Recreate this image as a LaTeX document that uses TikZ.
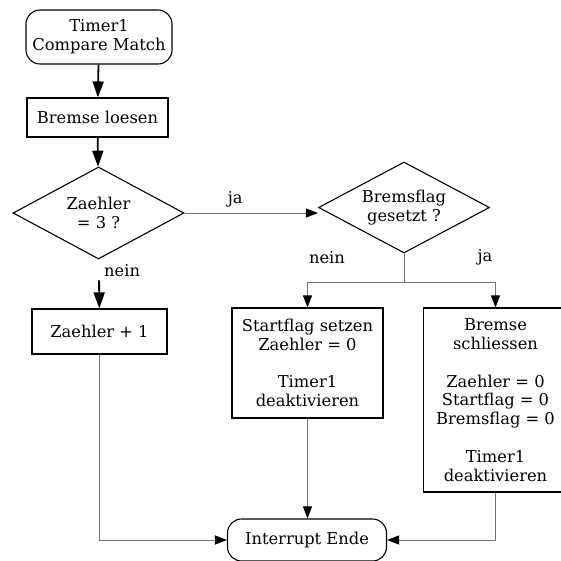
\documentclass[tikz,border=0pt]{standalone}
\usepackage{fontspec}
\setmainfont{DejaVu Serif}
\usetikzlibrary{shapes.geometric,arrows.meta}
\tikzset{
	startstop/.style={draw, line width=1.1pt, rounded corners=14pt, align=center, inner sep=0pt},
	process/.style={draw, line width=1.1pt, align=center, inner sep=0pt},
	decision/.style={draw, diamond, aspect=2, line width=1.1pt, align=center, inner sep=0pt},
	flowthick/.style={line width=1.8pt, -{Triangle[length=16pt,width=11pt]}},
	flowthin/.style={line width=1pt, draw=black!55, -{Triangle[length=12pt,width=9pt,black]}}
}
\begin{document}
\begin{tikzpicture}[x=1pt, y=-1pt, font=\fontsize{16.3}{18.8}\selectfont]
	\useasboundingbox (0,0) rectangle (560,561);
	%nodes
	\node[startstop, minimum width=146pt, minimum height=54pt] (start) at (99,37) {Timer1\\Compare Match};
	\node[process, minimum width=141pt, minimum height=39pt] (loesen) at (97.5,117.5) {Bremse loesen};
	\node[decision, minimum width=171pt, minimum height=92pt] (zaehler) at (98.5,213) {Zaehler\\= 3 ?};
	\node[decision, minimum width=171pt, minimum height=91pt] (bremsflag) at (404,207.5) {Bremsflag\\gesetzt ?};
	\node[process, minimum width=135pt, minimum height=45pt] (inc) at (99.5,331.5) {Zaehler + 1};
	\node[process, minimum width=151pt, minimum height=110pt] (startflag) at (307.5,363) {Startflag setzen\\Zaehler = 0\\[18.8pt]Timer1\\deaktivieren};
	\node[process, minimum width=144pt, minimum height=184pt] (schliessen) at (495.5,400) {Bremse\\schliessen\\[18.8pt]Zaehler = 0\\Startflag = 0\\Bremsflag = 0\\[18.8pt]Timer1\\deaktivieren};
	\node[startstop, minimum width=159pt, minimum height=42pt] (ende) at (307,540) {Interrupt Ende};
	\coordinate (split) at (404,282);
	%labels
	\node (neinR) at (327,258) {nein};
	\node (jaR) at (485,257) {ja};
	%connectors
	\draw[flowthick] (start) -- (loesen);
	\draw[flowthick] (loesen) -- (zaehler);
	\draw[flowthick, shorten <=21pt] (zaehler) -- node[pos=0.22, right=1pt] {nein} (inc);
	\draw[flowthin] (zaehler.east) -- node[pos=0.38, above=2pt] {ja} (zaehler.east -| bremsflag.west);
	\draw[line width=1pt, draw=black!55] (bremsflag) -- (split);
	\draw[flowthin] (split) -| (startflag);
	\draw[flowthin] (split) -| (schliessen);
	\draw[flowthin] (startflag.south) -- (startflag.south |- ende.north);
	\draw[flowthin] (inc) |- (ende);
	\draw[flowthin] (schliessen) |- (ende);
\end{tikzpicture}
\end{document}
